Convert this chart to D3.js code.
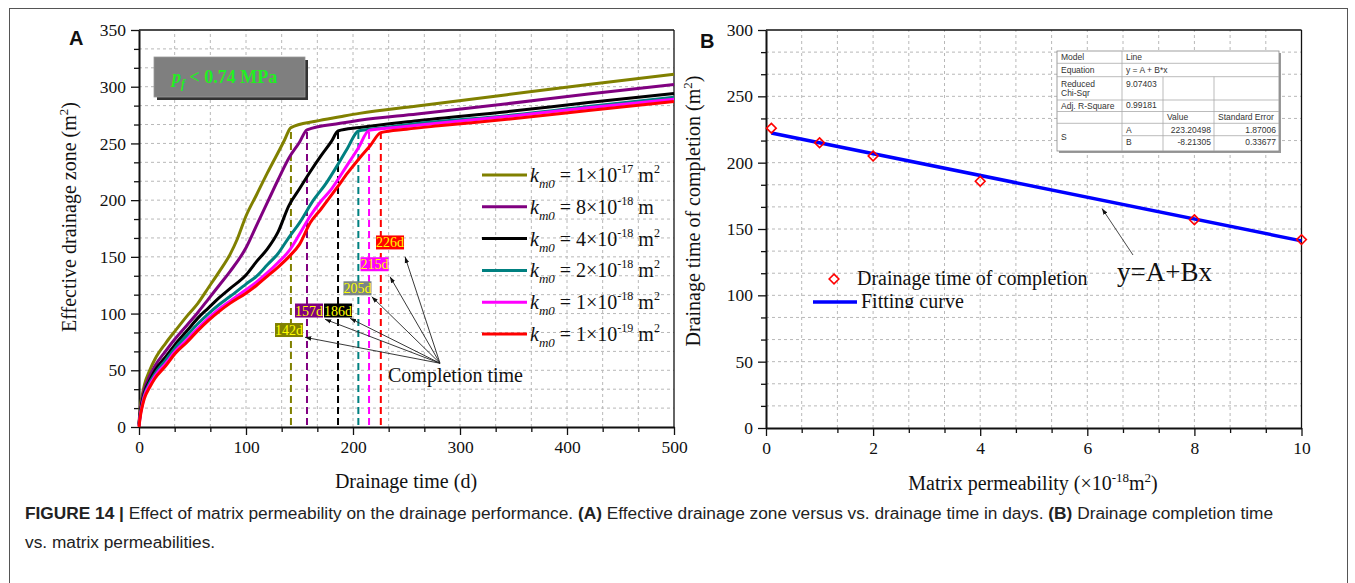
<!DOCTYPE html>
<html><head><meta charset="utf-8">
<script src="https://cdn.jsdelivr.net/npm/d3@7"></script>
<style>
body{margin:0;background:#fff;}
svg text{fill:#111;}
.serif{font-family:"Liberation Serif","Times New Roman",serif;}
.sans{font-family:"Liberation Sans",Arial,sans-serif;}
</style></head><body>
<svg id="c" width="1355" height="583"></svg>
<script>
// ---------------- DATA: panel A ----------------
const daysTicksA = [0,100,200,300,400,500];
const areaTicksA = [0,50,100,150,200,250,300,350];
const seriesMantissa = ["1×10","8×10","4×10","2×10","1×10","1×10"];
const seriesExponent = ["-17","-18","-18","-18","-18","-19"];
const seriesSquared = [true,false,true,true,true,true];
const curveK1e17 = [[0,3],[1,16],[3,28],[5,37],[10,50],[15,60],[25,74],[34,85],[45,98],[55,109],[65,123],[75,137],[85,152],[92,166],[100,186],[110,205],[120,224],[130,242],[136,253],[142,264],[165,269.5],[188,273.5],[206,276.5],[260,283],[344,293],[420,302],[500,311]];
const curveK8e18 = [[0,2],[1,13],[3,25],[5,33],[10,45],[15,54],[25,67],[34,78],[45,90],[55,101],[65,113],[75,125],[85,137],[100,158],[110,178],[120,198],[130,218],[140,237],[150,251],[157,262],[188,267.7],[206,270.5],[260,276],[344,285],[420,293.5],[500,302]];
const curveK4e18 = [[0,2],[1,11],[3,22],[5,30],[10,41],[15,50],[25,62],[34,73],[45,85],[55,96],[65,105],[75,114],[85,122],[100,134],[110,146],[120,157],[130,172],[140,195],[150,210],[160,225],[170,239],[180,252],[186,261],[206,264],[260,270],[344,278],[420,286],[500,294]];
const curveK2e18 = [[0,1],[1,10],[3,20],[5,28],[10,39],[15,47],[25,59],[34,70],[45,81],[55,91],[65,100],[75,108],[85,115],[100,126],[110,133],[120,143],[130,153],[140,167],[150,180],[163,200],[175,215],[185,230],[195,246],[205,261],[230,264],[260,267.5],[344,274.5],[420,282.5],[500,290.7]];
const curveK1e18 = [[0,1],[1,9],[3,19],[5,27],[10,37],[15,45],[25,56],[34,67],[45,77],[55,87],[65,96],[75,104],[85,111],[100,121],[110,128],[120,136],[130,145],[140,155],[150,170],[160,186],[170,199],[180,210],[194,230],[205,246],[215,261.5],[240,264],[260,266],[344,273.7],[420,281.5],[500,289]];
const curveK1e19 = [[0,0],[1,8],[3,18],[5,25],[10,35],[15,43],[25,54],[34,65],[45,75],[55,85],[65,94],[75,102],[85,109],[100,118],[110,125],[120,133],[130,141],[140,150],[150,161],[160,180],[170,192],[185,211],[195,224],[206,237],[216,248],[226,259.5],[250,262.5],[280,265.5],[344,271.3],[420,279],[500,287]];
const completionDays = [142,157,186,205,215,226];
const completionLabels = ["142d","157d","186d","205d","215d","226d"];

// ---------------- DATA: panel B ----------------
const permTicks = [0,2,4,6,8,10];
const timeTicksB = [0,50,100,150,200,250,300];
const permeability = [0.1,1,2,4,8,10];
const completionTime = [226,215,205,186,157,142];
const fitA = 223.20498, fitB = -8.21305;
const tableRows = [
  ["Model","Line"],
  ["Equation","y = A + B*x"],
  ["Reduced\nChi-Sqr","9.07403","",""],
  ["Adj. R-Square","0.99181","",""],
  ["","","Value","Standard Error"],
  ["S","A","223.20498","1.87006"],
  ["","B","-8.21305","0.33677"]
];

// ---------------- styles ----------------
const seriesColors = ["#808000","#800080","#000000","#008080","#ff00ff","#ff0000"];
const labelFill = ["#808000","#800080","#000000","#7a8585","#ff00ff","#ff0000"];
const curves = [curveK1e17,curveK8e18,curveK4e18,curveK2e18,curveK1e18,curveK1e19];

const svg = d3.select("#c");
svg.append("rect").attr("x",9.5).attr("y",8.5).attr("width",1338).attr("height",620)
  .attr("fill","none").attr("stroke","#555").attr("stroke-width",1);

const defs = svg.append("defs");
defs.append("marker").attr("id","ah").attr("viewBox","0 0 10 10").attr("refX",10).attr("refY",5)
  .attr("markerWidth",7).attr("markerHeight",7).attr("orient","auto-start-reverse")
  .append("path").attr("d","M0,1.5 L10,5 L0,8.5 Z").attr("fill","#111");

function frame(g, x, y, xMajor, xMinor, yMajor, yMinor, fmtX){
  const [x0,x1] = x.range(), [y0,y1] = y.range();
  const grid = g.append("g");
  xMinor.concat(xMajor).filter(v=>v>x.domain()[0] && v<x.domain()[1]).forEach(v=>{
    grid.append("line").attr("x1",x(v)).attr("x2",x(v)).attr("y1",y0).attr("y2",y1)
      .attr("stroke","#b8b8b8").attr("stroke-dasharray","3,3");
  });
  yMinor.concat(yMajor).filter(v=>v>y.domain()[0] && v<y.domain()[1]).forEach(v=>{
    grid.append("line").attr("y1",y(v)).attr("y2",y(v)).attr("x1",x0).attr("x2",x1)
      .attr("stroke","#b8b8b8").attr("stroke-dasharray","3,3");
  });
  g.append("line").attr("x1",x0).attr("x2",x1).attr("y1",y1).attr("y2",y1).attr("stroke","#111").attr("stroke-width",1.3);
  g.append("line").attr("x1",x1).attr("x2",x1).attr("y1",y0).attr("y2",y1).attr("stroke","#111").attr("stroke-width",1.3);
  g.append("g").attr("transform",`translate(0,${y0})`)
    .call(d3.axisBottom(x).tickValues(xMajor).tickSize(8).tickSizeOuter(0).tickPadding(6).tickFormat(fmtX||d3.format("d")));
  g.append("g").attr("transform",`translate(0,${y0})`)
    .call(d3.axisBottom(x).tickValues(xMinor).tickSize(5).tickSizeOuter(0).tickFormat(""))
    .select(".domain").remove();
  g.append("g").attr("transform",`translate(${x0},0)`)
    .call(d3.axisLeft(y).tickValues(yMajor).tickSize(8).tickSizeOuter(0).tickPadding(5).tickFormat(d3.format("d")));
  g.append("g").attr("transform",`translate(${x0},0)`)
    .call(d3.axisLeft(y).tickValues(yMinor).tickSize(5).tickSizeOuter(0).tickFormat(""))
    .select(".domain").remove();
  g.selectAll(".domain").attr("stroke","#111").attr("stroke-width",2);
  g.selectAll(".tick line").attr("stroke","#111").attr("stroke-width",1.3);
  g.selectAll(".tick text").attr("class","serif").attr("font-size",17.5).style("font-family","'Liberation Serif',serif").attr("fill","#111");
}

// ================= PANEL A =================
const xA = d3.scaleLinear([0,500],[139,674]);
const yA = d3.scaleLinear([0,350],[427,30]);
const gA = svg.append("g").attr("class","serif");
frame(gA, xA, yA, daysTicksA, d3.range(0,500,100/3).filter((v,i)=>i%3!==0),
      areaTicksA, d3.range(0,350,50/3).filter((v,i)=>i%3!==0));

completionDays.forEach((d,i)=>{
  const pt = curves[i].find(p=>p[0]===d);
  gA.append("line").attr("x1",xA(d)).attr("x2",xA(d)).attr("y1",yA(0)-2).attr("y2",yA(pt[1]))
    .attr("stroke",seriesColors[i]).attr("stroke-width",2).attr("stroke-dasharray","7,4");
});

const line = d3.line().x(d=>xA(d[0])).y(d=>yA(d[1])).curve(d3.curveMonotoneX);
curves.forEach((c,i)=>{
  gA.append("path").attr("d",line(c)).attr("fill","none").attr("stroke",seriesColors[i])
    .attr("stroke-width",3).attr("stroke-linejoin","round");
});

// pf box
gA.append("rect").attr("x",157).attr("y",60).attr("width",151).attr("height",40).attr("fill","#333");
gA.append("rect").attr("x",154).attr("y",57).attr("width",151).attr("height",40).attr("fill","#7f7f7f")
  .attr("stroke","#999").attr("stroke-width",0.8);
const pf = gA.append("text").attr("x",172).attr("y",83).attr("font-size",18).attr("font-weight","bold").style("fill","#22ee22");
pf.append("tspan").attr("font-style","italic").text("p");
pf.append("tspan").attr("font-style","italic").attr("font-size",12).attr("dy",5).text("f");
pf.append("tspan").attr("dy",-5).text(" < 0.74 MPa");

// legend
seriesColors.forEach((col,i)=>{
  const ly = 175 + i*31.8;
  gA.append("line").attr("x1",482).attr("x2",527).attr("y1",ly).attr("y2",ly).attr("stroke",col).attr("stroke-width",3);
  const t = gA.append("text").attr("x",530).attr("y",ly+7).attr("font-size",20);
  t.append("tspan").attr("font-style","italic").text("k");
  t.append("tspan").attr("font-style","italic").attr("font-size",13).attr("dy",6).text("m0");
  t.append("tspan").attr("dy",-6).text(" = "+seriesMantissa[i]);
  t.append("tspan").attr("font-size",12).attr("dy",-9).text(seriesExponent[i]);
  t.append("tspan").attr("dy",9).text(" m");
  if(seriesSquared[i]) t.append("tspan").attr("font-size",12).attr("dy",-9).text("2");
});

// completion labels and arrows
const labelPos = [[140.2,85.5],[158.9,102.7],[186,102.7],[204.2,122.3],[220.1,143.5],[234.6,162.7]];
const arrowTip = [[155.1,79.1],[173.8,95],[197.2,95.8],[217.5,114.9],[234.6,132.5],[248.6,150.1]];
const arrowFrom = [281.3,56.2];
arrowTip.forEach(p=>{
  gA.append("line").attr("x1",xA(arrowFrom[0])).attr("y1",yA(arrowFrom[1])).attr("x2",xA(p[0])).attr("y2",yA(p[1]))
    .attr("stroke","#222").attr("stroke-width",0.9).attr("marker-end","url(#ah)");
});
completionLabels.forEach((lab,i)=>{
  const cx = xA(labelPos[i][0]), cy = yA(labelPos[i][1]);
  gA.append("rect").attr("x",cx-14).attr("y",cy-7).attr("width",28).attr("height",14).attr("fill",labelFill[i]);
  gA.append("text").attr("x",cx).attr("y",cy+5).attr("text-anchor","middle").attr("font-size",14)
    .style("fill","#ffff00").text(lab);
});
gA.append("text").attr("x",xA(232.7)).attr("y",yA(39.7)).attr("font-size",20).text("Completion time");

gA.append("text").attr("x",406).attr("y",488).attr("text-anchor","middle").attr("font-size",20).text("Drainage time (d)");
const ytA = gA.append("text").attr("transform","translate(76,217) rotate(-90)").attr("text-anchor","middle").attr("font-size",20);
ytA.append("tspan").text("Effective drainage zone (m");
ytA.append("tspan").attr("font-size",13).attr("dy",-8).text("2");
ytA.append("tspan").attr("dy",8).text(")");
svg.append("text").attr("class","sans").attr("x",69).attr("y",45).attr("font-weight","bold")
  .attr("font-size",20).text("A");

// ================= PANEL B =================
const xB = d3.scaleLinear([0,10],[766,1301.5]);
const yB = d3.scaleLinear([0,300],[428,30]);
const gB = svg.append("g").attr("class","serif");
frame(gB, xB, yB, permTicks, d3.range(0,10,2/3).filter((v,i)=>i%3!==0),
      timeTicksB, d3.range(0,300,50/3).filter((v,i)=>i%3!==0));

const fitX = d3.extent(permeability);
gB.append("path").attr("d",d3.line()(fitX.map(v=>[xB(v),yB(fitA+fitB*v)])))
  .attr("stroke","#0000ff").attr("stroke-width",3.5).attr("fill","none");
const diamond = d3.symbol().type(d3.symbolDiamond2).size(60);
permeability.forEach((v,i)=>{
  gB.append("path").attr("d",diamond()).attr("transform",`translate(${xB(v)},${yB(completionTime[i])})`)
    .attr("fill","none").attr("stroke","#ff0000").attr("stroke-width",1.6);
});

// table
const tX = [1057,1122,1163,1214,1279];
const tY = [51,63.3,76.7,100,111.5,123.3,135.7,151];
const tg = svg.append("g").attr("class","sans");
tg.append("rect").attr("x",tX[0]+2).attr("y",tY[0]+2).attr("width",tX[4]-tX[0]).attr("height",tY[7]-tY[0]).attr("fill","#999");
tg.append("rect").attr("x",tX[0]).attr("y",tY[0]).attr("width",tX[4]-tX[0]).attr("height",tY[7]-tY[0])
  .attr("fill","#fff").attr("stroke","#888").attr("stroke-width",0.8);
tY.slice(1,7).forEach((yy,i)=>{
  const xs = (i===5) ? tX[1] : tX[0];
  tg.append("line").attr("x1",xs).attr("x2",tX[4]).attr("y1",yy).attr("y2",yy).attr("stroke","#aaa").attr("stroke-width",0.8);
});
tg.append("line").attr("x1",tX[1]).attr("x2",tX[1]).attr("y1",tY[0]).attr("y2",tY[7]).attr("stroke","#aaa").attr("stroke-width",0.8);
[tX[2],tX[3]].forEach(xx=>tg.append("line").attr("x1",xx).attr("x2",xx).attr("y1",tY[2]).attr("y2",tY[7]).attr("stroke","#aaa").attr("stroke-width",0.8));
tableRows.forEach((row,r)=>{
  row.forEach((cell,c)=>{
    if(!cell) return;
    let yy = (tY[r]+tY[r+1])/2 + 3;
    if(r===5 && c===0) yy = (tY[5]+tY[7])/2 + 3;
    if(r===6) yy = tY[6]+9;
    if(r===2 && c===1) yy = tY[2]+10;
    if(r===3 && c===1) yy = tY[3]+8;
    const lines = cell.split("\n");
    const numeric = (r>=5 && c>=2);
    const x = numeric ? tX[c+1]-3 : (c===0 ? tX[0]+4 : (r<=3 ? tX[1]+4 : tX[c]+4));
    const t = tg.append("text").attr("x",x).attr("font-size",8.5)
      .attr("text-anchor",numeric?"end":"start").style("fill","#333");
    if(lines.length>1){
      lines.forEach((l,k)=>t.append("tspan").attr("x",x).attr("y",tY[r]+10+k*9.5).text(l));
    } else t.attr("y",yy).text(cell);
  });
});

gB.append("line").attr("x1",1133).attr("y1",255).attr("x2",1102).attr("y2",208.5)
  .attr("stroke","#333").attr("stroke-width",0.9).attr("marker-end","url(#ah)");
gB.append("text").attr("x",1117).attr("y",281).attr("font-size",27).text("y=A+Bx");

gB.append("path").attr("d",diamond()).attr("transform","translate(834,279)").attr("fill","none").attr("stroke","#ff0000").attr("stroke-width",1.6);
gB.append("text").attr("x",857).attr("y",285).attr("font-size",20).text("Drainage time of completion");
gB.append("line").attr("x1",813).attr("x2",857).attr("y1",302).attr("y2",302).attr("stroke","#0000ff").attr("stroke-width",3.5);
defs.append("clipPath").attr("id","fc").append("rect").attr("x",850).attr("y",280).attr("width",200).attr("height",28);
gB.append("text").attr("x",861).attr("y",308).attr("font-size",20).attr("clip-path","url(#fc)").text("Fitting curve");

const xtB = gB.append("text").attr("x",1033).attr("y",490).attr("text-anchor","middle").attr("font-size",20);
xtB.append("tspan").text("Matrix permeability (×10");
xtB.append("tspan").attr("font-size",13).attr("dy",-8).text("-18");
xtB.append("tspan").attr("dy",8).text("m");
xtB.append("tspan").attr("font-size",13).attr("dy",-8).text("2");
xtB.append("tspan").attr("dy",8).text(")");
const ytB = gB.append("text").attr("transform","translate(700,211) rotate(-90)").attr("text-anchor","middle").attr("font-size",20);
ytB.append("tspan").text("Drainage time of completion (m");
ytB.append("tspan").attr("font-size",13).attr("dy",-8).text("2");
ytB.append("tspan").attr("dy",8).text(")");
svg.append("text").attr("class","sans").attr("x",700).attr("y",48).attr("font-weight","bold")
  .attr("font-size",20).text("B");

// caption
const cap = svg.append("g").attr("class","sans");
const c1 = cap.append("text").attr("x",25).attr("y",519).attr("font-size",17.3).style("fill","#222");
c1.append("tspan").attr("font-weight","bold").text("FIGURE 14 | ");
c1.append("tspan").text("Effect of matrix permeability on the drainage performance. ");
c1.append("tspan").attr("font-weight","bold").text("(A)");
c1.append("tspan").text(" Effective drainage zone versus vs. drainage time in days. ");
c1.append("tspan").attr("font-weight","bold").text("(B)");
c1.append("tspan").text(" Drainage completion time");
cap.append("text").attr("x",25).attr("y",548).attr("font-size",17.3).style("fill","#222")
  .text("vs. matrix permeabilities.");
</script>
</body></html>
